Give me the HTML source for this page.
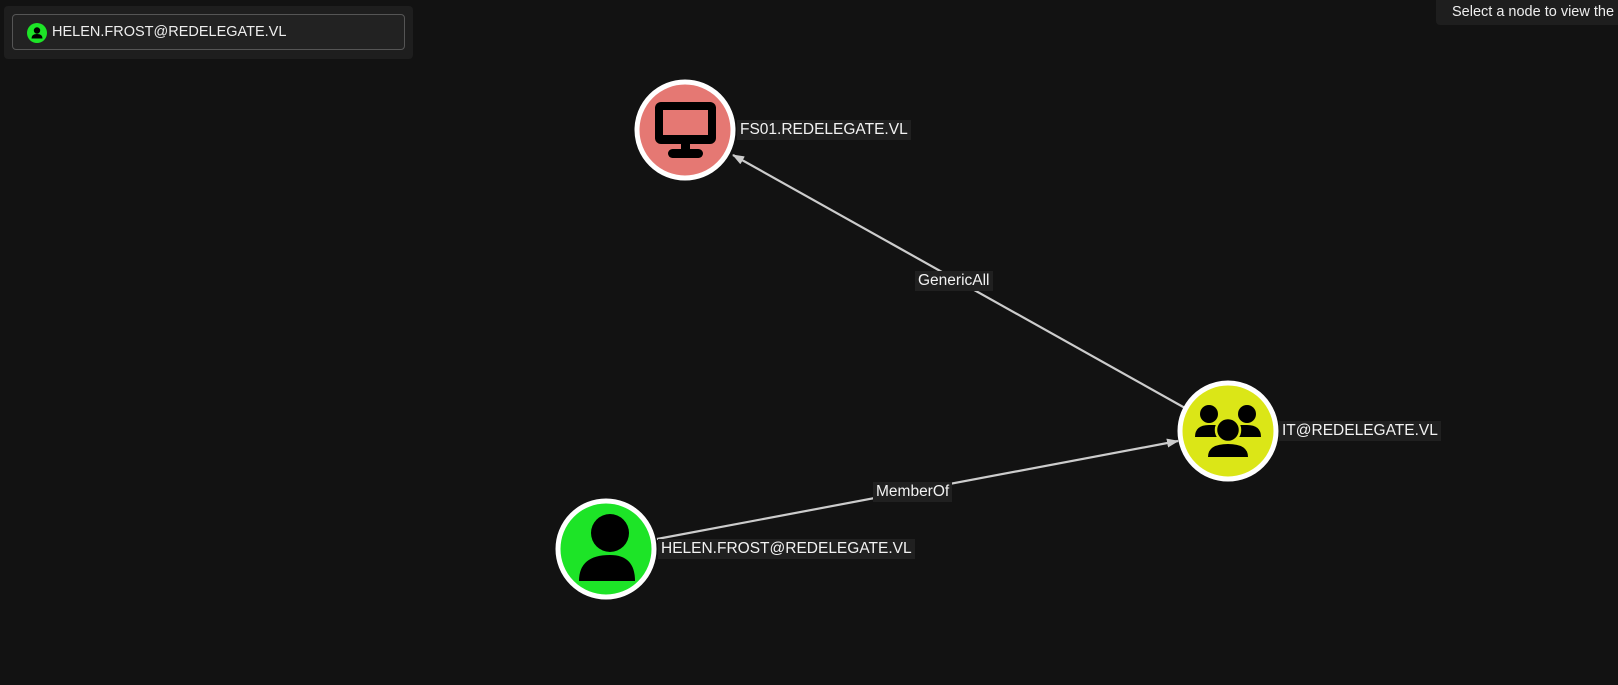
<!DOCTYPE html>
<html><head><meta charset="utf-8"><style>
html,body{margin:0;padding:0;background:#121212;width:1618px;height:685px;overflow:hidden;font-family:"Liberation Sans",sans-serif;}
.lbl{position:absolute;background:#202020;color:#f2f2f2;font-size:15.5px;line-height:20px;padding:0 3px;white-space:nowrap;}
</style></head><body>
<div style="position:absolute;left:4px;top:6px;width:409px;height:53px;background:#1e1e1e;border-radius:4px;"></div>
<div style="position:absolute;left:12px;top:14px;width:391px;height:34px;border:1px solid #555;border-radius:4px;background:#222;"></div>
<svg style="position:absolute;left:27px;top:23px" width="20" height="20" viewBox="0 0 20 20"><circle cx="10" cy="10" r="10" fill="#1de427"/><circle cx="10" cy="7.5" r="3.2" fill="#000"/><path d="M4.5 15.5 Q4.5 11 10 11 Q15.5 11 15.5 15.5 Z" fill="#000"/></svg>
<div style="position:absolute;left:52px;top:24px;color:#eee;font-size:14.5px;">HELEN.FROST@REDELEGATE.VL</div>
<div style="position:absolute;left:1436px;top:0;width:200px;height:25px;background:#1e1e1e;border-radius:0 0 0 4px;"></div>
<div style="position:absolute;left:1452px;top:4px;color:#eee;font-size:14.5px;white-space:nowrap;">Select a node to view the a</div>
<svg style="position:absolute;left:0;top:0" width="1618" height="685">
<defs><marker id="a" markerWidth="12" markerHeight="9" refX="11" refY="4.5" orient="auto" markerUnits="userSpaceOnUse"><path d="M0 0 L12 4.5 L0 9 Z" fill="#ccc"/></marker></defs>
<line x1="1185" y1="408" x2="733" y2="155" stroke="#ccc" stroke-width="2.2" marker-end="url(#a)"/>
<line x1="657" y1="539" x2="1178" y2="441" stroke="#ccc" stroke-width="2.2" marker-end="url(#a)"/>
<circle cx="685" cy="130" r="48" fill="#e57873" stroke="#fff" stroke-width="5"/>
<rect x="655" y="102" width="61" height="42" rx="6" fill="#000"/><rect x="663" y="110" width="45" height="25" fill="#e57873"/>
<rect x="681" y="143" width="9" height="7" fill="#000"/><rect x="668" y="149" width="35" height="9" rx="4.5" fill="#000"/>
<circle cx="1228" cy="431" r="48" fill="#dbe617" stroke="#fff" stroke-width="5"/>
<circle cx="1209" cy="414" r="9" fill="#000"/><circle cx="1247" cy="414" r="9" fill="#000"/>
<path d="M1195 437 Q1195 425 1209 425 L1218 425 L1218 437 Z" fill="#000"/><path d="M1261 437 Q1261 425 1247 425 L1238 425 L1238 437 Z" fill="#000"/>
<circle cx="1228" cy="430" r="12" fill="#000" stroke="#dbe617" stroke-width="2.5"/>
<path d="M1208 457 Q1208 444 1228 444 Q1248 444 1248 457 Z" fill="#000"/>
<circle cx="606" cy="549" r="48" fill="#1de427" stroke="#fff" stroke-width="5"/>
<circle cx="610" cy="533" r="19" fill="#000"/><path d="M579 581 Q579 555 610 555 Q635 555 635 581 Z" fill="#000"/>
</svg>
<div class="lbl" style="left:737px;top:120px;">FS01.REDELEGATE.VL</div>
<div class="lbl" style="left:1279px;top:421px;">IT@REDELEGATE.VL</div>
<div class="lbl" style="left:658px;top:539px;">HELEN.FROST@REDELEGATE.VL</div>
<div class="lbl" style="left:915px;top:271px;">GenericAll</div>
<div class="lbl" style="left:873px;top:482px;">MemberOf</div>
</body></html>
